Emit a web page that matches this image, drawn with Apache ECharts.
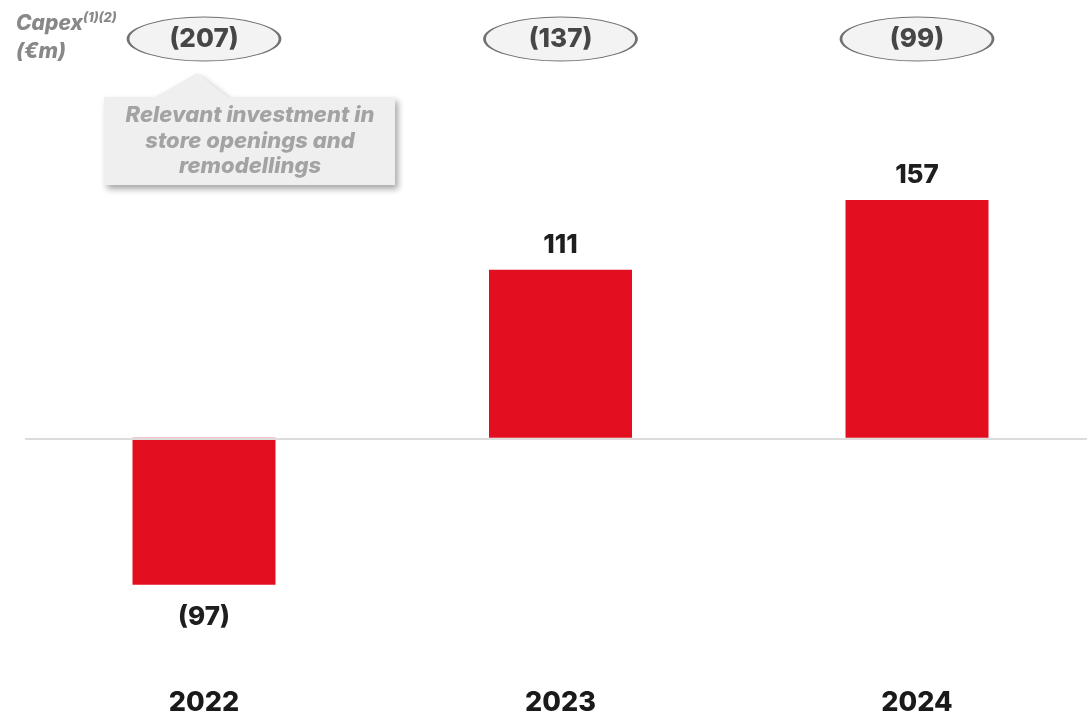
<!DOCTYPE html>
<html><head><meta charset="utf-8">
<script src="https://cdn.jsdelivr.net/npm/echarts@6/dist/echarts.min.js"></script>
<style>html,body{margin:0;padding:0;background:#fff}#c{width:1087px;height:716px}</style>
</head><body><div id="c"></div>
<script>
const years = ['2022', '2023', '2024'];
const values = [-97, 111, 157];
const capex = [-207, -137, -99];
const calloutLines = ['Relevant investment in', 'store openings and', 'remodellings'];

const FONT = 'Inter, "Open Sans", sans-serif';
const paren = v => v < 0 ? '(' + Math.abs(v) + ')' : String(v);
const ellipsePath = 'path://M0,1 C0,0.4477 0.4477,0 1,0 C1.5523,0 2,0.4477 2,1 C2,1.5523 1.5523,2 1,2 C0.4477,2 0,1.5523 0,1 Z';

const chart = echarts.init(document.getElementById('c'));
chart.setOption({
  animation: false,
  backgroundColor: '#fff',
  grid: [
    { left: 204, right: 170, top: 135, height: 532 },
    { left: 204, right: 170, top: 17, height: 44 },
    { left: 25, right: 0, top: 135, height: 532 }
  ],
  xAxis: [
    { type: 'category', data: years, gridIndex: 0, boundaryGap: false,
      axisLine: { show: false }, axisTick: { show: false }, splitLine: { show: false },
      axisLabel: { margin: 24, fontSize: 27, fontWeight: 800, color: '#1a1a1a', fontFamily: FONT } },
    { type: 'category', data: years, gridIndex: 1, boundaryGap: false, show: false },
    { type: 'value', gridIndex: 2, min: 0, max: 1, show: false }
  ],
  yAxis: [
    { type: 'value', min: -150, max: 200, gridIndex: 0, show: false, splitLine: { show: false } },
    { type: 'value', min: 0, max: 1, gridIndex: 1, show: false, splitLine: { show: false } },
    { type: 'value', min: -150, max: 200, gridIndex: 2, show: false, splitLine: { show: false } }
  ],
  series: [
    {
      type: 'line', xAxisIndex: 2, yAxisIndex: 2, data: [], silent: true,
      markLine: {
        silent: true, symbol: 'none', animation: false,
        lineStyle: { color: '#dcdcdc', width: 2, type: 'solid' },
        label: { show: false },
        data: [{ yAxis: 0 }]
      }
    },
    {
      type: 'bar', barWidth: 143, xAxisIndex: 0, yAxisIndex: 0, z: 3,
      data: values.map(v => v < 0 ? { value: v, label: { position: 'bottom', distance: 19 } } : v),
      itemStyle: { color: '#e30f20' },
      label: {
        show: true,
        position: 'top',
        distance: 12,
        fontSize: 26, fontWeight: 800, color: '#1e1e1e', fontFamily: FONT,
        formatter: p => paren(p.value)
      }
    },
    {
      type: 'scatter', xAxisIndex: 1, yAxisIndex: 1,
      data: capex.map(() => 0.5),
      symbol: ellipsePath, symbolSize: [152, 44],
      itemStyle: { color: '#f0f0f0', borderColor: '#4f4f4f', borderWidth: 1.5 },
      label: {
        show: true, position: 'inside',
        fontSize: 26, fontWeight: 800, color: '#1a1a1a', fontFamily: FONT,
        formatter: p => paren(capex[p.dataIndex])
      },
      silent: true
    }
  ],
  graphic: [
    {
      type: 'polygon',
      shape: { points: [[104,97],[155,97],[197,73],[228,97],[395,97],[395,185],[104,185]] },
      style: { fill: '#efefef', shadowBlur: 6, shadowColor: 'rgba(0,0,0,0.35)', shadowOffsetX: 3, shadowOffsetY: 4 },
      z: 10
    },
    {
      type: 'text', z: 11,
      style: {
        x: 250, y: 103,
        text: calloutLines.join('\n'), textAlign: 'center', textVerticalAlign: 'top',
        font: 'italic 800 22px ' + FONT, fill: '#a3a3a3', lineHeight: 25.5
      }
    },
    {
      type: 'text', z: 11,
      style: { x: 16, y: 13, text: 'Capex', font: 'italic 800 21px ' + FONT, fill: '#888' }
    },
    {
      type: 'text', z: 11,
      style: { x: 83, y: 12, text: '(1)(2)', font: 'italic 800 13px ' + FONT, fill: '#888' }
    },
    {
      type: 'text', z: 11,
      style: { x: 16, y: 41, text: '(€m)', font: 'italic 800 21px ' + FONT, fill: '#888' }
    }
  ]
});
</script>
</body></html>
